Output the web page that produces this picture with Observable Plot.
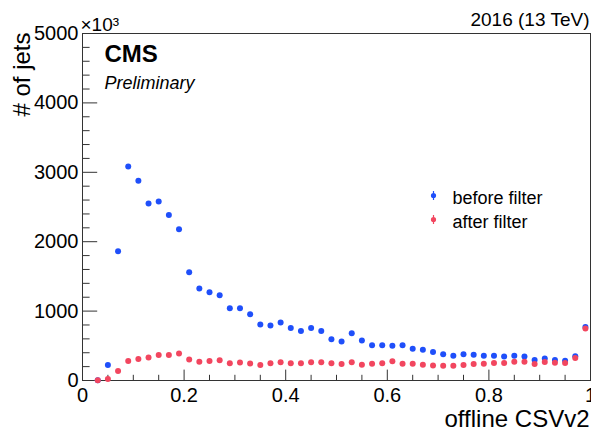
<!DOCTYPE html>
<html>
<head>
<meta charset="utf-8">
<script src="https://cdn.jsdelivr.net/npm/d3@7"></script>
<script src="https://cdn.jsdelivr.net/npm/@observablehq/plot@0.6"></script>
<style>
  html, body { margin: 0; padding: 0; background: #fff; }
  #chart { width: 591px; height: 432px; }
</style>
</head>
<body>
<div id="chart"></div>
<script>
// ---- data ----
const binCenters = [0.01,0.03,0.05,0.07,0.09,0.11,0.13,0.15,0.17,0.19,
  0.21,0.23,0.25,0.27,0.29,0.31,0.33,0.35,0.37,0.39,
  0.41,0.43,0.45,0.47,0.49,0.51,0.53,0.55,0.57,0.59,
  0.61,0.63,0.65,0.67,0.69,0.71,0.73,0.75,0.77,0.79,
  0.81,0.83,0.85,0.87,0.89,0.91,0.93,0.95,0.97,0.99];
const beforeFilter = [null,5,222,1862,3082,2877,2551,2580,2384,2178,
  1561,1327,1270,1227,1040,1040,954,806,792,835,
  758,714,758,714,595,562,681,577,509,509,
  499,509,456,442,411,380,356,380,370,356,
  356,347,356,347,294,318,294,284,351,772];
const afterFilter = [null,3,20,136,280,308,332,366,366,390,
  304,270,280,290,247,261,245,225,250,264,
  250,250,264,264,250,236,264,226,240,250,
  279,240,240,226,215,212,212,222,237,241,
  251,251,270,270,237,265,256,251,323,749];
const seriesNames = ["before filter", "after filter"];
const seriesColors = ["#1f4ffa", "#f2465f"];
const xMajor = [0, 0.2, 0.4, 0.6, 0.8, 1];
const xMajorLabels = ["0", "0.2", "0.4", "0.6", "0.8", "1"];
const xMinor = [0.05,0.1,0.15,0.25,0.3,0.35,0.45,0.5,0.55,0.65,0.7,0.75,0.85,0.9,0.95];
const yMajor = [0, 1000, 2000, 3000, 4000, 5000];
const yMinor = [200,400,600,800,1200,1400,1600,1800,2200,2400,2600,2800,3200,3400,3600,3800,4200,4400,4600,4800];
const xTitle = "offline CSVv2";
const yTitle = "# of jets";
const yExponent = "\u00d710\u00b3";
const energyLabel = "2016 (13 TeV)";

// ---- tables ----
const before = binCenters.map((x, i) => ({x, y: beforeFilter[i]})).filter(d => d.y != null);
const after = binCenters.map((x, i) => ({x, y: afterFilter[i]})).filter(d => d.y != null);

const W = 591, H = 432, mL = 82, mR = 1, mT = 33, mB = 52;
const iw = W - mL - mR, ih = H - mT - mB;
const font = "'Liberation Sans', Arial, Helvetica, sans-serif";
const axisColor = "#333";

const legendSymbol = {
  draw(ctx, size) {
    const r = Math.sqrt(size / Math.PI);
    ctx.moveTo(r, 0);
    ctx.arc(0, 0, r, 0, 2 * Math.PI);
    ctx.moveTo(-0.6, -4.5);
    ctx.lineTo(0.6, -4.5);
    ctx.lineTo(0.6, 4.5);
    ctx.lineTo(-0.6, 4.5);
    ctx.closePath();
  }
};

const chart = Plot.plot({
  width: W, height: H,
  marginLeft: mL, marginRight: mR, marginTop: mT, marginBottom: mB,
  style: {fontFamily: font, background: "#fff", color: "#000"},
  x: {domain: [0, 1], axis: null},
  y: {domain: [0, 5000], axis: null},
  marks: [
    // ticks (inside the frame)
    Plot.ruleX(xMajor, {x: d => d, insetTop: ih - 10.4, stroke: axisColor, strokeWidth: 1}),
    Plot.ruleX(xMinor, {x: d => d, insetTop: ih - 5.2, stroke: axisColor, strokeWidth: 1}),
    Plot.ruleY(yMajor, {y: d => d, insetRight: iw - 15.2, stroke: axisColor, strokeWidth: 1}),
    Plot.ruleY(yMinor, {y: d => d, insetRight: iw - 7.6, stroke: axisColor, strokeWidth: 1}),
    Plot.frame({stroke: axisColor, strokeWidth: 1}),
    // tick labels
    Plot.axisX(xMajor, {tickSize: 0, tickPadding: 7, fontSize: 20, label: null,
      tickFormat: (d, i) => xMajorLabels[i], fill: "#000"}),
    Plot.axisY(yMajor, {tickSize: 0, tickPadding: 4, fontSize: 20, label: null,
      tickFormat: d => String(d), fill: "#000"}),
    // data
    Plot.dot(before, {x: "x", y: "y", r: 3, fill: seriesColors[0], stroke: "none"}),
    Plot.dot(after, {x: "x", y: "y", r: 3, fill: seriesColors[1], stroke: "none"}),
    // titles
    Plot.text([yTitle], {frameAnchor: "top-left", text: d => d, rotate: -90, textAnchor: "end",
      lineAnchor: "bottom", dx: -53, dy: -1, fontSize: 24, fill: "#000"}),
    Plot.text([xTitle], {frameAnchor: "bottom-right", text: d => d, textAnchor: "end",
      lineAnchor: "bottom", dx: -1, dy: 46, fontSize: 24, fill: "#000"}),
    Plot.text([yExponent], {frameAnchor: "top-left", text: d => d, textAnchor: "start",
      lineAnchor: "bottom", dx: -2, dy: -3, fontSize: 19, fill: "#000"}),
    Plot.text([energyLabel], {frameAnchor: "top-right", text: d => d, textAnchor: "end",
      lineAnchor: "bottom", dx: -1, dy: -8, fontSize: 19, fill: "#000"}),
    Plot.text(["CMS"], {frameAnchor: "top-left", text: d => d, textAnchor: "start",
      lineAnchor: "bottom", dx: 22, dy: 28, fontSize: 24, fontWeight: "bold", fill: "#000"}),
    Plot.text(["Preliminary"], {frameAnchor: "top-left", text: d => d, textAnchor: "start",
      lineAnchor: "bottom", dx: 22, dy: 55, fontSize: 18, fontStyle: "italic", fill: "#000"}),
    // legend
    Plot.dot([seriesNames[0]], {frameAnchor: "top-left", dx: 351, dy: 162, r: 2.6,
      symbol: legendSymbol, fill: seriesColors[0], stroke: "none"}),
    Plot.dot([seriesNames[1]], {frameAnchor: "top-left", dx: 351, dy: 186, r: 2.6,
      symbol: legendSymbol, fill: seriesColors[1], stroke: "none"}),
    Plot.text([seriesNames[0]], {frameAnchor: "top-left", text: d => d, textAnchor: "start",
      lineAnchor: "bottom", dx: 370, dy: 170, fontSize: 18, fill: "#000"}),
    Plot.text([seriesNames[1]], {frameAnchor: "top-left", text: d => d, textAnchor: "start",
      lineAnchor: "bottom", dx: 370, dy: 194, fontSize: 18, fill: "#000"})
  ]
});
document.getElementById("chart").appendChild(chart);
</script>
</body>
</html>
